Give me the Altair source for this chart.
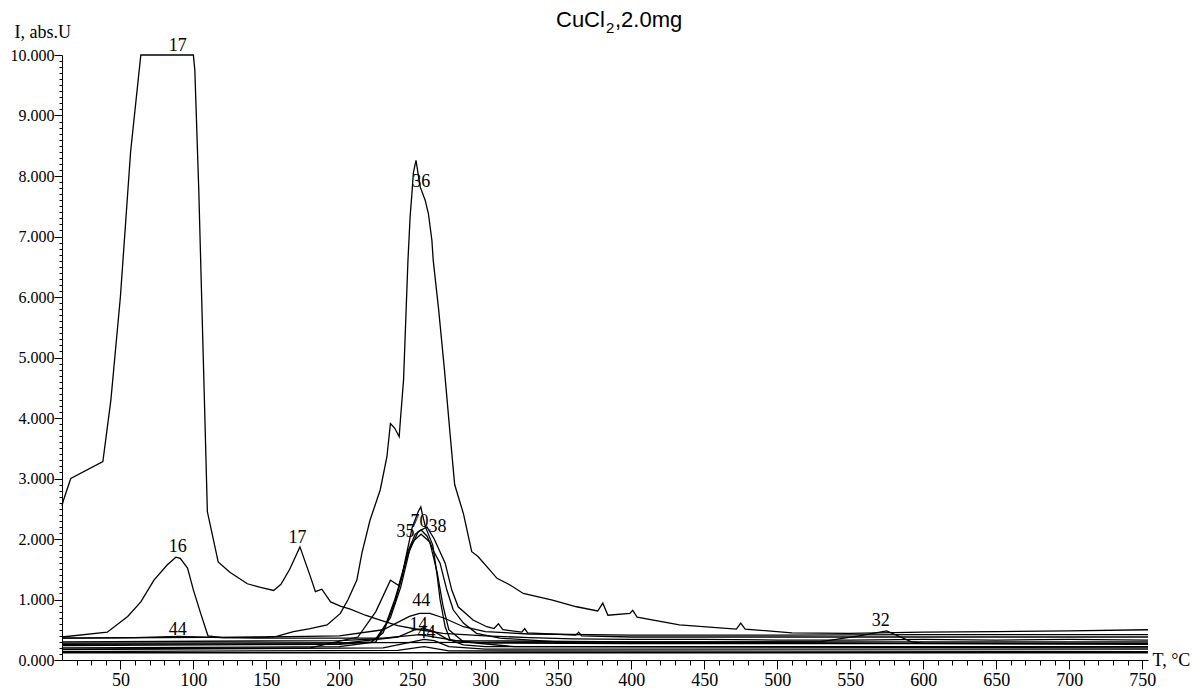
import altair as alt
import pandas as pd

# ---- series: temperature T (°C) and intensity I (abs.U) ----
T17 = [10, 11, 16, 38, 43.5, 50, 57, 64, 100, 101, 103.7, 107, 109.6, 117, 125, 137, 146, 155, 160, 166, 173,
       180, 183.6, 188, 194, 200.7, 207.5, 217.8, 228, 240, 255, 271, 300, 330, 360, 400, 450, 500, 550, 600,
       650, 700, 754]
I17 = [2.55, 2.64, 3.0, 3.28, 4.3, 6.0, 8.4, 10.0, 10.0, 9.75, 7.77, 4.8, 2.45, 1.62, 1.45, 1.26, 1.2, 1.15,
       1.25, 1.5, 1.87, 1.39, 1.13, 1.17, 0.96, 0.89, 0.84, 0.74, 0.66, 0.57, 0.5, 0.44, 0.4, 0.37, 0.35, 0.34,
       0.34, 0.33, 0.33, 0.34, 0.33, 0.34, 0.33]

T16 = [10, 41, 55, 64, 73, 82, 88, 91, 96, 100, 105, 110, 120, 150, 230, 255, 280, 400, 754]
I16 = [0.38, 0.46, 0.72, 0.96, 1.32, 1.57, 1.7, 1.68, 1.52, 1.16, 0.77, 0.4, 0.37, 0.36, 0.36, 0.42, 0.32,
       0.3, 0.3]

T36 = [10, 150, 157, 168.6, 180, 191.6, 200.7, 206, 212, 215.5, 221, 228, 232.6, 235, 238, 241, 242, 244, 247,
       248.5, 249.7, 250.7, 252.5, 255.4, 258.8, 261, 263.4, 264.3, 268, 272, 276, 279, 285, 290.7, 295, 303,
       308, 317, 326, 346, 362.5, 377, 380.5, 384, 399, 401, 404, 433, 472, 475, 478, 510, 549, 600, 650, 700,
       754]
I36 = [0.36, 0.38, 0.39, 0.47, 0.52, 0.58, 0.77, 1.0, 1.32, 1.77, 2.31, 2.81, 3.36, 3.91, 3.83, 3.69, 4.02,
       4.63, 6.6, 7.33, 7.7, 8.05, 8.26, 7.82, 7.6, 7.38, 6.94, 6.61, 5.8, 4.8, 3.7, 2.9, 2.42, 1.79, 1.71, 1.49,
       1.35, 1.24, 1.1, 0.99, 0.88, 0.81, 0.94, 0.74, 0.77, 0.82, 0.71, 0.58, 0.51, 0.61, 0.51, 0.45, 0.44, 0.46,
       0.47, 0.48, 0.5]

T70 = [10, 200, 225, 232, 238, 243, 246, 250, 254, 255.8, 257, 259, 264, 267, 269, 272.5, 276, 285, 300, 754]
I70 = [0.2, 0.22, 0.3, 0.6, 1.0, 1.4, 1.75, 2.2, 2.45, 2.53, 2.4, 2.2, 1.9, 1.4, 1.0, 0.55, 0.33, 0.25, 0.22,
       0.22]

T35 = [10, 200, 222, 230, 238, 243, 247, 252, 256, 260, 265, 269, 273.6, 278, 285, 294, 310, 350, 754]
I35 = [0.24, 0.26, 0.3, 0.45, 0.95, 1.38, 1.8, 2.08, 2.15, 2.05, 1.78, 1.6, 1.16, 0.83, 0.61, 0.44, 0.36,
       0.3, 0.26]

T38 = [10, 200, 225, 235, 242, 248, 254, 260, 265, 272.5, 277, 281.4, 291.6, 301, 306, 309, 312, 325, 327,
       329, 362, 364, 366, 400, 754]
I38 = [0.3, 0.32, 0.35, 0.7, 1.2, 1.8, 2.12, 2.2, 2.0, 1.6, 1.16, 0.88, 0.66, 0.55, 0.52, 0.6, 0.5, 0.46, 0.52,
       0.45, 0.41, 0.46, 0.4, 0.38, 0.38]

T37 = [10, 180, 212.7, 225, 235, 240.7, 245, 250, 256, 262, 267, 271, 275, 285, 320, 754]
I37 = [0.18, 0.2, 0.38, 0.8, 1.32, 1.23, 1.6, 1.95, 2.08, 1.95, 1.45, 0.9, 0.5, 0.3, 0.22, 0.2]

T44 = [10, 60, 90, 120, 200, 230, 248, 255, 262, 272, 285, 300, 330, 400, 500, 600, 650, 754]
I44 = [0.36, 0.37, 0.39, 0.37, 0.4, 0.5, 0.72, 0.77, 0.77, 0.69, 0.55, 0.47, 0.43, 0.41, 0.41, 0.42, 0.42,
       0.42]

T14 = [10, 200, 240, 252, 258, 265, 275, 300, 400, 754]
I14 = [0.26, 0.27, 0.38, 0.5, 0.52, 0.47, 0.33, 0.28, 0.27, 0.27]

T40 = [10, 230, 250, 258, 265, 275, 300, 754]
I40 = [0.17, 0.2, 0.3, 0.34, 0.32, 0.22, 0.18, 0.18]

T18 = [10, 240, 258, 275, 754]
I18 = [0.14, 0.16, 0.22, 0.15, 0.14]

T28 = [10, 754]
I28 = [0.12, 0.12]

T32 = [10, 300, 500, 529, 556, 575, 592, 600, 754]
I32 = [0.28, 0.29, 0.3, 0.3, 0.4, 0.48, 0.3, 0.28, 0.28]

# ---- curve labels ----
label_text = ["17", "16", "17", "44", "36", "35", "70", "38", "44", "14", "44", "32"]
label_T = [89.3, 89.3, 171.4, 89.3, 256.2, 245.3, 254.9, 267.2, 256.2, 254.2, 259.7, 570.9]
label_I = [10.07, 1.78, 1.93, 0.42, 7.82, 2.03, 2.20, 2.11, 0.90, 0.49, 0.37, 0.57]

series = {
    "17": (T17, I17), "16": (T16, I16), "36": (T36, I36), "70": (T70, I70), "35": (T35, I35),
    "38": (T38, I38), "37": (T37, I37), "44": (T44, I44), "14": (T14, I14), "40": (T40, I40),
    "18": (T18, I18), "28": (T28, I28), "32": (T32, I32),
}
rows = []
for name, (ts, vs) in series.items():
    for t, v in zip(ts, vs):
        rows.append({"series": name, "T": t, "I": v})
df = pd.DataFrame(rows)
labels_df = pd.DataFrame({"label": label_text, "T": label_T, "I": label_I})

SERIF = "Liberation Serif"

x_ticks = list(range(20, 751, 10))
y_ticks = [round(i * 0.1, 1) for i in range(101)]

x_axis = alt.Axis(
    values=x_ticks, tickCount=500,
    labelExpr="datum.value % 50 === 0 ? datum.label : ''",
    tickSize={"condition": {"test": "datum.value % 50 === 0", "value": 9}, "value": 5},
    tickColor="black", domainColor="black", labelColor="black",
    labelFont=SERIF, labelFontSize=18, labelPadding=2, grid=False,
    labelFlush=False, labelOverlap=False,
    title="T, °C", titleFont=SERIF, titleFontSize=18, titleFontWeight="normal", titleColor="black",
    titleAngle=0, titleAlign="left", titleBaseline="alphabetic", titleX=1090, titleY=5,
)
y_axis = alt.Axis(
    values=y_ticks, tickCount=500, format=".3f",
    labelExpr="abs(datum.value - round(datum.value)) < 0.001 ? datum.label : ''",
    tickSize={"condition": {"test": "abs(datum.value - round(datum.value)) < 0.001", "value": 8}, "value": 3},
    tickColor="black", domainColor="black", labelColor="black",
    labelFont=SERIF, labelFontSize=16, labelPadding=0, grid=False,
    labelFlush=False, labelOverlap=False,
    title="I, abs.U", titleFont=SERIF, titleFontSize=18, titleFontWeight="normal", titleColor="black",
    titleAngle=0, titleAlign="left", titleBaseline="alphabetic", titleX=-48, titleY=-18,
)

xs = alt.Scale(domain=[10, 754], nice=False, zero=False)
ys = alt.Scale(domain=[0, 10], nice=False, zero=False)

lines = alt.Chart(df).mark_line(color="black", strokeWidth=1.3).encode(
    x=alt.X("T:Q", scale=xs, axis=x_axis),
    y=alt.Y("I:Q", scale=ys, axis=y_axis),
    detail="series:N",
)

labels = alt.Chart(labels_df).mark_text(
    font=SERIF, fontSize=18, color="black", align="center", baseline="alphabetic"
).encode(x=alt.X("T:Q", scale=xs), y=alt.Y("I:Q", scale=ys), text="label:N")

tdf = pd.DataFrame({"a": ["CuCl"], "b": ["2"], "c": [",2.0mg"]})
title_a = alt.Chart(tdf).mark_text(font="Liberation Sans", fontSize=22, color="black",
                                   align="left", baseline="alphabetic").encode(
    text="a:N", x=alt.value(494), y=alt.value(-28))
title_b = alt.Chart(tdf).mark_text(font="Liberation Sans", fontSize=15, color="black",
                                   align="left", baseline="alphabetic").encode(
    text="b:N", x=alt.value(544), y=alt.value(-22))
title_c = alt.Chart(tdf).mark_text(font="Liberation Sans", fontSize=22, color="black",
                                   align="left", baseline="alphabetic").encode(
    text="c:N", x=alt.value(553), y=alt.value(-28))

chart = alt.layer(lines, labels, title_a, title_b, title_c).properties(
    width=1086, height=605,
    padding={"left": 54, "top": 47, "right": 44, "bottom": 28},
    autosize=alt.AutoSizeParams(type="none"),
).configure_view(stroke=None)

chart.save("out.html", embed_options={"renderer": "svg", "actions": False})
